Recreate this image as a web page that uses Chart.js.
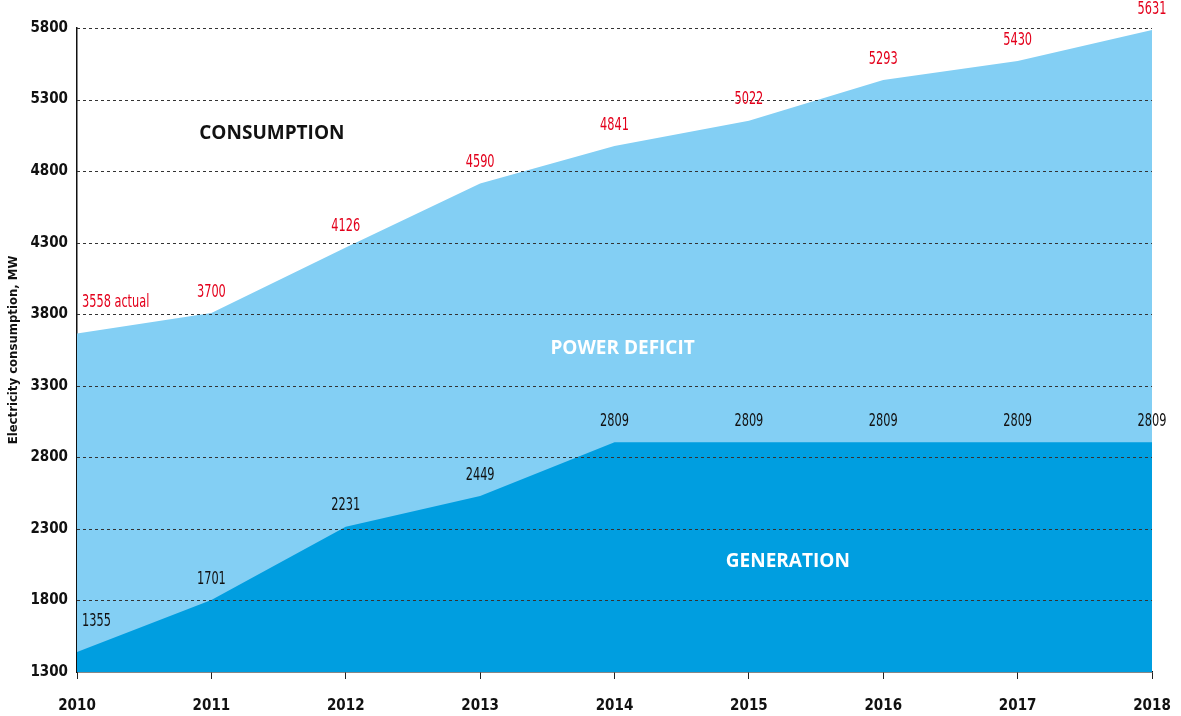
<!DOCTYPE html>
<html>
<head>
<meta charset="utf-8">
<script src="https://cdn.jsdelivr.net/npm/chart.js@4/dist/chart.umd.min.js"></script>
<style>
  html, body { margin: 0; padding: 0; background: #fff; }
  #wrap { width: 1181px; height: 716px; position: relative; }
</style>
</head>
<body>
<div id="wrap"><canvas id="chart"></canvas></div>
<script>
// --- data ---
const years = ['2010', '2011', '2012', '2013', '2014', '2015', '2016', '2017', '2018'];
const consumption = [3666, 3808, 4266, 4714, 4975, 5152, 5436, 5569, 5786];
const generation = [1440, 1803, 2315, 2530, 2905, 2905, 2905, 2905, 2905];
const consumptionLabels = ['3558 actual', '3700', '4126', '4590', '4841', '5022', '5293', '5430', '5631'];
const generationLabels = ['1355', '1701', '2231', '2449', '2809', '2809', '2809', '2809', '2809'];
const yTicks = [1300, 1800, 2300, 2800, 3300, 3800, 4300, 4800, 5300, 5800];

// area names: [text, x index, y value, colour]
const areaNames = [
  ['CONSUMPTION', 1.45, 5060, '#111'],
  ['POWER DEFICIT', 4.06, 3560, '#fff'],
  ['GENERATION', 5.29, 2070, '#fff']
];

const NARROW = '"Liberation Sans Narrow", "DejaVu Sans Condensed", sans-serif';
const WIDE = '"Open Sans", "Noto Sans", sans-serif';

// dashed grid drawn above the filled areas
const gridOnTop = {
  id: 'gridOnTop',
  afterDatasetsDraw(chart) {
    const { ctx, chartArea: a, scales: { y } } = chart;
    ctx.save();
    ctx.strokeStyle = '#333';
    ctx.lineWidth = 1;
    ctx.setLineDash([3, 3]);
    yTicks.slice(1).forEach(v => {
      const py = Math.round(y.getPixelForValue(v)) + 0.5;
      ctx.beginPath();
      ctx.moveTo(a.left, py);
      ctx.lineTo(a.right, py);
      ctx.stroke();
    });
    ctx.restore();
  }
};

const valueLabels = {
  id: 'valueLabels',
  afterDraw(chart) {
    const { ctx, scales: { x, y } } = chart;
    ctx.save();
    ctx.textBaseline = 'middle';
    ctx.font = '18px ' + NARROW;
    const put = (labels, vals, color) => {
      ctx.fillStyle = color;
      labels.forEach((t, i) => {
        const px = x.getPixelForValue(i);
        const py = y.getPixelForValue(vals[i]) - 21;
        ctx.save();
        if (i === 0) {
          ctx.translate(px + 5, py - 10);
          ctx.textAlign = 'left';
        } else {
          ctx.translate(px, py);
          ctx.textAlign = 'center';
        }
        ctx.scale(0.7, 1); // squeeze to look like the condensed face
        ctx.fillText(t, 0, 0);
        ctx.restore();
      });
    };
    put(consumptionLabels, consumption, '#e3001b');
    put(generationLabels, generation, '#111');

    ctx.font = 'bold 19px ' + WIDE;
    ctx.textAlign = 'center';
    areaNames.forEach(([t, xi, yv, c]) => {
      ctx.fillStyle = c;
      ctx.fillText(t, x.getPixelForValue(xi), y.getPixelForValue(yv));
    });
    ctx.restore();
  }
};

new Chart(document.getElementById('chart'), {
  type: 'line',
  data: {
    labels: years,
    datasets: [
      { label: 'Generation', data: generation, fill: 'start', backgroundColor: '#009ee0',
        borderWidth: 0, pointRadius: 0, tension: 0 },
      { label: 'Consumption', data: consumption, fill: 'start', backgroundColor: '#83cff4',
        borderWidth: 0, pointRadius: 0, tension: 0 }
    ]
  },
  options: {
    responsive: true, maintainAspectRatio: false, animation: false,
    layout: { padding: { top: 28, right: 29, left: 0, bottom: 0 } },
    plugins: { legend: { display: false }, tooltip: { enabled: false } },
    scales: {
      x: {
        offset: false,
        grid: { display: true, drawOnChartArea: false, drawTicks: true, tickLength: 7, color: '#222' },
        border: { display: true, color: '#111', width: 1.5 },
        ticks: { color: '#111', padding: 18, maxRotation: 0, font: { family: NARROW, size: 15, weight: 'bold' } },
        afterFit(s) { s.height = 44; s.paddingLeft = 0; s.paddingRight = 0; }
      },
      y: {
        min: 1300, max: 5800,
        afterBuildTicks(s) { s.ticks = yTicks.map(v => ({ value: v })); },
        grid: { display: false, drawTicks: false },
        border: { display: true, color: '#111', width: 1.5 },
        ticks: { color: '#111', padding: 9, callback: v => String(v),
          font: { family: NARROW, size: 15, weight: 'bold' } },
        title: { display: true, text: 'Electricity consumption, MW', color: '#111', padding: { top: 6, bottom: 0 },
          font: { family: NARROW, size: 13, weight: 'bold' } },
        afterFit(s) { s.width = 77; }
      }
    }
  },
  plugins: [gridOnTop, valueLabels]
});
</script>
</body>
</html>
